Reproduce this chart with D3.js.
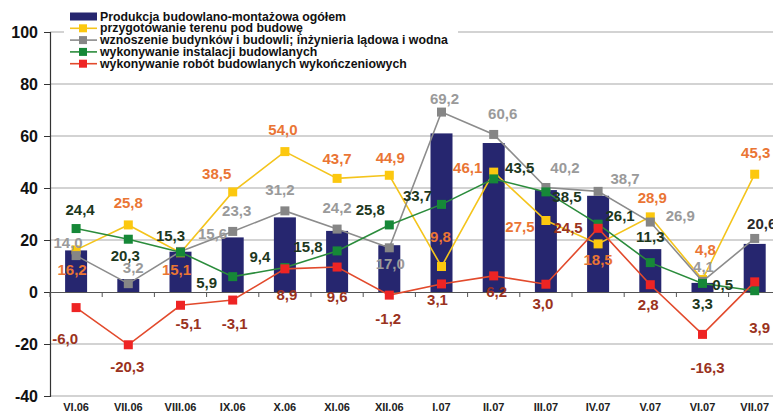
<!DOCTYPE html>
<html>
<head>
<meta charset="utf-8">
<script src="https://cdn.jsdelivr.net/npm/d3@7"></script>
<style>
  body { margin: 0; background: #fff; }
  svg text { font-family: "Liberation Sans", Arial, sans-serif; font-weight: bold; }
</style>
</head>
<body>
<div id="paper"></div>
<script>
// months on the x axis
const months = ['VI.06','VII.06','VIII.06','IX.06','X.06','XI.06','XII.06','I.07','II.07','III.07','IV.07','V.07','VI.07','VII.07'];
const yTicks = [-40, -20, 0, 20, 40, 60, 80, 100];

// bars: Produkcja budowlano-montażowa ogółem
const ogolem = [16.0, 5.0, 15.5, 21.0, 28.7, 23.5, 18.0, 61.0, 57.3, 39.2, 37.0, 16.5, 3.5, 18.5];
// lines
const przygotowanie = [16.2, 25.8, 15.1, 38.5, 54.0, 43.7, 44.9, 9.8, 46.1, 27.5, 18.5, 28.9, 4.8, 45.3];
const wznoszenie = [14.0, 3.2, 15.6, 23.3, 31.2, 24.2, 17.0, 69.2, 60.6, 40.2, 38.7, 26.9, 4.1, 20.6];
const instalacje = [24.4, 20.3, 15.3, 5.9, 9.4, 15.8, 25.8, 33.7, 43.5, 38.5, 26.1, 11.3, 3.3, 0.5];
const wykonczeniowe = [-6.0, -20.3, -5.1, -3.1, 8.9, 9.6, -1.2, 3.1, 6.2, 3.0, 24.5, 2.8, -16.3, 3.9];

const legendNames = [
  'Produkcja budowlano-montażowa ogółem',
  'przygotowanie terenu pod budowę',
  'wznoszenie budynków i budowli; inżynieria lądowa i wodna',
  'wykonywanie instalacji budowlanych',
  'wykonywanie robót budowlanych wykończeniowych'
];

// hand placed data labels, offsets from the point
const offYellow = [[-4,20],[0,-22],[-4,17],[-16,-18],[-2,-22],[0,-20],[1,-18],[-1,-30],[-26,-5],[-26,6],[0,16],[2,-19],[3,-30],[1,-22]];
const offGray = [[-8,-13],[5,-16],[32,-18],[4,-21],[-5,-21],[0,-22],[1,16],[3,-14],[9,-21],[19,-20],[27,-13],[30,-7],[1,-15],[7,-15]];
const offGreen = [[4,-19],[-3,16],[-10,-17],[-26,6],[-25,-11],[-29,-4],[-19,-15],[-24,-9],[26,-11],[21,5],[22,-9],[0,-26],[0,20],[-32,-6]];
const offRed = [[-11,31],[-1,22],[8,18],[2,23],[2,26],[0,29],[-1,23],[-4,16],[3,16],[-3,19],[-30,-1],[-2,20],[5,33],[5,46]];

const W = 773, H = 412;
const x = d3.scaleBand().domain(months).range([50, 50 + 14 * 52.2]).padding(0);
const y = d3.scaleLinear().domain([-40, 100]).range([396, 32]);
const cx = m => x(m) + x.bandwidth() / 2;
const fmt = v => d3.format('.1f')(v).replace('.', ',').replace('\u2212', '-');

const svg = d3.select('#paper').append('svg')
  .attr('width', W).attr('height', H);

// gridlines
svg.selectAll('.grid')
  .data(yTicks.filter(t => t !== 0))
  .join('line')
  .attr('class', 'grid')
  .attr('x1', 50).attr('x2', W)
  .attr('y1', d => y(d)).attr('y2', d => y(d))
  .attr('stroke', '#c4c4c4')
  .attr('stroke-width', 1.5);

// y axis
const yAxis = svg.append('g')
  .attr('transform', 'translate(50,0)')
  .call(d3.axisLeft(y).tickValues(yTicks).tickSize(6).tickPadding(6).tickFormat(d => String(d)));
yAxis.select('.domain').attr('stroke', '#333').attr('stroke-width', 1.2);
yAxis.selectAll('.tick line').attr('stroke', '#333');
yAxis.selectAll('text')
  .attr('font-size', '16px')
  .attr('font-family', '"Liberation Sans", Arial, sans-serif')
  .attr('font-weight', 'bold')
  .attr('fill', '#111');

// bars
svg.selectAll('.bar')
  .data(ogolem)
  .join('rect')
  .attr('class', 'bar')
  .attr('x', (d, i) => cx(months[i]) - 11)
  .attr('width', 22)
  .attr('y', d => y(Math.max(0, d)))
  .attr('height', d => Math.abs(y(d) - y(0)))
  .attr('fill', '#26266f');

// zero axis with ticks between categories
const xAxis = svg.append('g')
  .attr('transform', `translate(0,${y(0)})`)
  .call(d3.axisBottom(x).tickSize(0).tickFormat(''));
xAxis.select('.domain').attr('stroke', '#555').attr('stroke-width', 1.2);
svg.selectAll('.xtick')
  .data(months)
  .join('line')
  .attr('class', 'xtick')
  .attr('x1', d => x(d)).attr('x2', d => x(d))
  .attr('y1', y(0)).attr('y2', y(0) + 5)
  .attr('stroke', '#555');

// month labels at bottom
svg.selectAll('.mlab')
  .data(months)
  .join('text')
  .attr('class', 'mlab')
  .attr('x', d => cx(d))
  .attr('y', 411)
  .attr('text-anchor', 'middle')
  .attr('font-size', '11px')
  .attr('fill', '#222')
  .text(d => d);

const series = [
  {vals: przygotowanie, line: '#f4c41c', mark: '#fcc80f', lab: '#ea7534', off: offYellow},
  {vals: wznoszenie, line: '#8c8c8c', mark: '#868686', lab: '#9a9a9a', off: offGray},
  {vals: instalacje, line: '#2b8c3c', mark: '#168838', lab: '#1d381d', off: offGreen},
  {vals: wykonczeniowe, line: '#e24a2c', mark: '#ee2424', lab: '#9a3220', off: offRed}
];

const line = d3.line().x((d, i) => cx(months[i])).y(d => y(d));

series.forEach((s, k) => {
  svg.append('path')
    .datum(s.vals)
    .attr('d', line)
    .attr('fill', 'none')
    .attr('stroke', s.line)
    .attr('stroke-width', 1.6);
  svg.selectAll('.mk' + k)
    .data(s.vals)
    .join('rect')
    .attr('class', 'mk' + k)
    .attr('x', (d, i) => cx(months[i]) - 4.5)
    .attr('y', d => y(d) - 4.5)
    .attr('width', 9).attr('height', 9)
    .attr('fill', s.mark);
});

series.forEach((s, k) => {
  svg.selectAll('.lb' + k)
    .data(s.vals)
    .join('text')
    .attr('class', 'lb' + k)
    .attr('x', (d, i) => cx(months[i]) + s.off[i][0])
    .attr('y', (d, i) => y(d) + s.off[i][1])
    .attr('text-anchor', 'middle')
    .attr('dominant-baseline', 'central')
    .attr('font-size', '15px')
    .attr('fill', (d, i) => (k === 1 && i === 13) ? '#2a2a2a' : s.lab)
    .text(d => fmt(d));
});

// legend
const lg = svg.append('g');
lg.append('rect')
  .attr('x', 64).attr('y', 10).attr('width', 394).attr('height', 62)
  .attr('fill', '#fff');
const legendColors = [null].concat(series.map(s => [s.line, s.mark]));
legendNames.forEach((name, i) => {
  const ly = 16.5 + i * 11.8;
  if (i === 0) {
    lg.append('rect').attr('x', 70).attr('y', ly - 4).attr('width', 27).attr('height', 8).attr('fill', '#26266f');
  } else {
    lg.append('line').attr('x1', 70).attr('x2', 97).attr('y1', ly).attr('y2', ly)
      .attr('stroke', legendColors[i][0]).attr('stroke-width', 1.6);
    lg.append('rect').attr('x', 79).attr('y', ly - 4).attr('width', 8).attr('height', 8)
      .attr('fill', legendColors[i][1]);
  }
  lg.append('text')
    .attr('x', 100).attr('y', ly)
    .attr('dominant-baseline', 'central')
    .attr('font-size', '12.3px')
    .attr('fill', '#111')
    .text(name);
});
</script>
</body>
</html>
